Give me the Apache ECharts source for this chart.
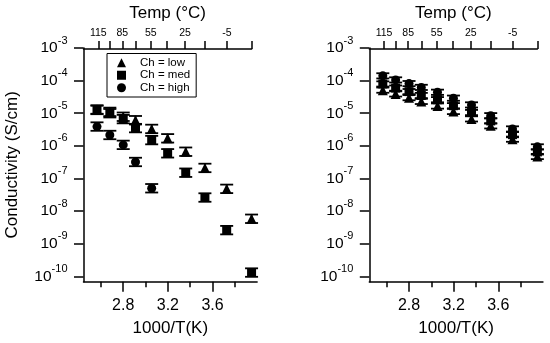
<!DOCTYPE html>
<html><head><meta charset="utf-8">
<script src="https://cdn.jsdelivr.net/npm/echarts@6/dist/echarts.min.js"></script>
<style>html,body{margin:0;padding:0;background:#fff}#c{width:550px;height:343px}</style>
</head><body><div id="c"></div>
<script>
// ---- data ----
const invT      = [2.565, 2.68, 2.80, 2.91, 3.055, 3.198, 3.36, 3.532, 3.727, 3.95];
const leftLow   = [1.3e-5, 1.1e-5, 7.8e-6, 6.1e-6, 3.3e-6, 1.7e-6, 6.6e-7, 2.1e-7, 4.8e-8, 5.8e-9];
const leftMed   = [1.26e-5, 1.0e-5, 6.6e-6, 3.5e-6, 1.5e-6, 5.9e-7, 1.5e-7, 2.6e-8, 2.6e-9, 1.3e-10];
const leftHigh  = [3.9e-6, 2.15e-6, 1.07e-6, 3.2e-7, 5.0e-8, null, null, null, null, null];
const rightLow  = [5.1e-5, 3.9e-5, 3.0e-5, 2.3e-5, 1.66e-5, 1.13e-5, 6.7e-6, 4.1e-6, 1.6e-6, 4.7e-7];
const rightMed  = [7.9e-5, 5.9e-5, 4.6e-5, 3.5e-5, 2.6e-5, 1.7e-5, 1.05e-5, 5.8e-6, 2.2e-6, 6.5e-7];
const rightHigh = [1.4e-4, 1.05e-4, 8.1e-5, 6.2e-5, 4.4e-5, 2.9e-5, 1.8e-5, 8.4e-6, 3.3e-6, 9.3e-7];
const errLeft = 0.13;   // error-bar half height, decades
const errRight = 0.08;
const bottomMajor = [2.8, 3.2, 3.6];
const bottomMinor = [2.6, 3.0, 3.4, 3.8];
const tempTicks = [115, 100, 85, 70, 55, 40, 25, 10, -5, -20];
const tempLabels = [115, 85, 55, 25, -5];
const decadeTicks = [-10, -9, -8, -7, -6, -5, -4, -3];
const seriesNames = ['Ch = low', 'Ch = med', 'Ch = high'];
const symbols = ['triangle', 'rect', 'circle'];

// ---- layout ----
const toInv = t => 1000 / (t + 273.15);
const X_MIN = 2.444, X_MAX = 4.0, TOP_MAX = toInv(-20);
const Y_MIN = -10.166, Y_MAX = -3;
const PX = 111.6;
const mainW = (X_MAX - X_MIN) * PX, topW = (TOP_MAX - X_MIN) * PX;
const gTop = 48, gH = 233.7;
const panelLeft = [83.5, 369.3];
const FONT = 'Liberation Sans, Arial, sans-serif';
const axLine = {lineStyle: {color: '#000', width: 1.5}};

const grids = [], xAxes = [], yAxes = [], series = [];
panelLeft.forEach((L, p) => {
  const err = p === 0 ? errLeft : errRight;
  const gMain = grids.length;
  grids.push({left: L, top: gTop, width: mainW, height: gH});
  const gTopAx = grids.length;
  grids.push({left: L, top: gTop, width: topW, height: gH});
  const xMain = xAxes.length;
  xAxes.push({gridIndex: gMain, type: 'value', position: 'bottom', min: X_MIN, max: X_MAX,
    axisLine: axLine, splitLine: {show: false},
    axisTick: {customValues: bottomMajor, length: 10, lineStyle: {color: '#000', width: 1.5}},
    axisLabel: {customValues: bottomMajor, formatter: v => v.toFixed(1), fontSize: 16, color: '#000', margin: 16, fontFamily: FONT},
    name: '1000/T(K)', nameLocation: 'middle', nameGap: 38,
    nameTextStyle: {fontSize: 17, color: '#000', fontFamily: FONT}});
  xAxes.push({gridIndex: gMain, type: 'value', position: 'bottom', min: X_MIN, max: X_MAX,
    axisLine: {show: false}, splitLine: {show: false},
    axisTick: {customValues: bottomMinor, length: 5.5, lineStyle: {color: '#000', width: 1.5}},
    axisLabel: {show: false}});
  xAxes.push({gridIndex: gTopAx, type: 'value', position: 'top', min: X_MIN, max: TOP_MAX,
    axisLine: axLine, splitLine: {show: false},
    axisTick: {customValues: tempTicks.map(toInv), length: 8, lineStyle: {color: '#000', width: 1.5}},
    axisLabel: {customValues: tempLabels.map(toInv), formatter: v => String(Math.round(1000 / v - 273.15)),
      fontSize: 10.5, color: '#000', margin: 10, fontFamily: FONT},
    name: 'Temp (°C)', nameLocation: 'middle', nameGap: 27,
    nameTextStyle: {fontSize: 17, color: '#000', fontFamily: FONT}});
  const yMain = yAxes.length;
  yAxes.push({gridIndex: gMain, type: 'value', min: Y_MIN, max: Y_MAX,
    axisLine: {show: true, lineStyle: {color: '#000', width: 1.5}}, splitLine: {show: false},
    axisTick: {show: true, customValues: decadeTicks, length: 9.5, lineStyle: {color: '#000', width: 1.5}},
    axisLabel: {customValues: decadeTicks, margin: 16,
      formatter: v => '{b|10}{s|' + Math.round(v) + '}',
      rich: {b: {fontSize: 15.5, color: '#000', fontFamily: FONT},
             s: {fontSize: 11, color: '#000', fontFamily: FONT, padding: [0, 0, 15, 0]}}},
    name: p === 0 ? 'Conductivity (S/cm)' : '', nameLocation: 'middle', nameGap: 63,
    nameTextStyle: {fontSize: 17, color: '#000', fontFamily: FONT}});
  yAxes.push({gridIndex: gTopAx, type: 'value', min: Y_MIN, max: Y_MAX, show: false});

  const sets = p === 0 ? [leftLow, leftMed, leftHigh] : [rightLow, rightMed, rightHigh];
  sets.forEach((vals, k) => {
    const data = [];
    vals.forEach((v, i) => { if (v != null) data.push([invT[i], Math.log10(v)]); });
    series.push({type: 'custom', xAxisIndex: xMain, yAxisIndex: yMain, data: data, silent: true, z: 2,
      renderItem: (params, api) => {
        const x = api.value(0), y = api.value(1);
        const c = api.coord([x, y]);
        const t = api.coord([x, y + err])[1];
        const b = api.coord([x, y - err])[1];
        const hw = 6.5, st = {stroke: '#000', lineWidth: 1.8};
        return {type: 'group', children: [
          {type: 'line', shape: {x1: c[0], y1: t, x2: c[0], y2: b}, style: st},
          {type: 'line', shape: {x1: c[0] - hw, y1: t, x2: c[0] + hw, y2: t}, style: st},
          {type: 'line', shape: {x1: c[0] - hw, y1: b, x2: c[0] + hw, y2: b}, style: st}]};
      }});
    series.push({type: 'scatter', name: seriesNames[k], xAxisIndex: xMain, yAxisIndex: yMain,
      data: data, symbol: symbols[k], symbolSize: k === 0 ? 10 : 9, z: 3,
      itemStyle: {color: '#000', opacity: 1}});
  });
});

const chart = echarts.init(document.getElementById('c'), null, {renderer: 'canvas'});
chart.setOption({
  animation: false,
  backgroundColor: '#fff',
  textStyle: {fontFamily: FONT},
  grid: grids, xAxis: xAxes, yAxis: yAxes, series: series,
  legend: {data: seriesNames, orient: 'vertical', left: 107, top: 53.5,
    itemWidth: 9, itemHeight: 9, itemGap: 0, padding: [3, 6, 3, 10],
    borderColor: '#000', borderWidth: 1, selectedMode: false,
    textStyle: {fontSize: 11.5, color: '#000', fontFamily: FONT, padding: [0, 0, 0, 9], lineHeight: 12.5}}
});
</script></body></html>
